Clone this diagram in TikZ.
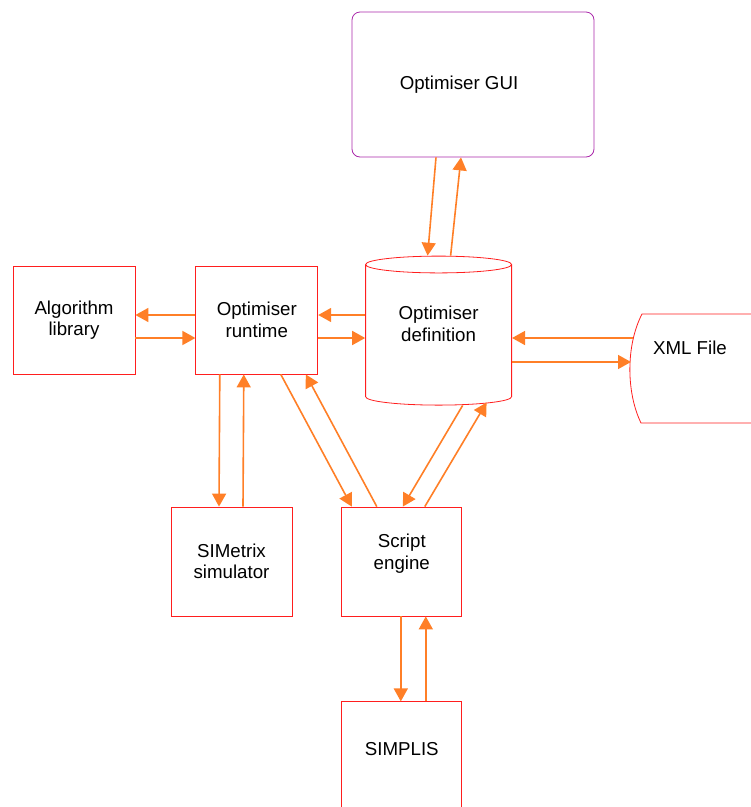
\documentclass[tikz,border=0pt]{standalone}
\usepackage{fontspec}
\setmainfont{Liberation Sans}
\usetikzlibrary{shapes.geometric,positioning,arrows.meta}
\usepackage{xcolor}
\definecolor{boxred}{RGB}{255,30,30}
\definecolor{linkorange}{RGB}{255,127,39}
\definecolor{guipurple}{RGB}{170,40,170}

\begin{document}
\begin{tikzpicture}[x=1pt,y=-1pt,%
		   block/.style={draw=boxred,line width=0.8pt,rectangle,minimum width=122pt,minimum height=108pt,align=center,inner sep=2pt},
		   store/.style={draw=boxred,line width=0.8pt,cylinder,shape border rotate=90,aspect=0.21,minimum width=146pt,minimum height=149pt,align=center,inner sep=0pt},
		   gui/.style={draw=guipurple,line width=0.8pt,rounded corners=8pt,minimum width=242pt,minimum height=145pt},
		   link/.style={-{Triangle[length=13pt,width=14pt]},line width=1.6pt,linkorange},
		   font=\fontsize{18.7}{21.5}\selectfont]
	\useasboundingbox (0,0) rectangle (751,807);

	\node[block] (lib) at (74,320) {Algorithm\\library};
	\node[block,right=60pt of lib] (rt) {Optimiser\\runtime};
	\node[store,right=47pt of rt,yshift=-15pt,label={[align=center,yshift=11pt]center:Optimiser\\definition}] (def) {\phantom{Optimiser}\\\phantom{definition}};
	\node[gui,label={[xshift=-14pt]center:Optimiser GUI}] (gui) at (473,84.5) {};
	\node[block,minimum width=121pt,minimum height=109pt] (sim) at (231.5,561.5) {SIMetrix\\simulator};
	\node[block,minimum width=120pt,minimum height=109pt,right=49pt of sim,label={[align=center,yshift=8pt]center:Script\\engine}] (script) {};
	\node[block,minimum width=120pt,below=85pt of script,label={[yshift=7pt]center:SIMPLIS}] (simplis) {};

	% file store, cut by the right edge
	\node (xml) at (690,348) {XML File};
	\draw[boxred,line width=0.8pt] (770,314) -- (642,314) .. controls (626,345) and (626,392) .. (641,423) -- (770,423);
	\coordinate (xml-in) at (631,362);
	\coordinate (xml-out) at (633,338);

	\draw[link] ([yshift=5pt]rt.west) -- ([yshift=5pt]lib.east);
	\draw[link] ([yshift=-18pt]lib.east) -- ([yshift=-18pt]rt.west);
	\draw[link] ([yshift=20pt]def.west) -- ([yshift=5pt]rt.east);
	\draw[link] ([yshift=-18pt]rt.east) -- ([yshift=-3pt]def.west);
	\draw[link] (xml-out) -- ([yshift=-3pt]def.east);
	\draw[link] ([yshift=-27pt]def.east) -- (xml-in);
	\draw[link] ([xshift=-37pt]gui.south) -- ([xshift=-11pt]def.north);
	\draw[link] ([xshift=12pt]def.north) -- ([xshift=-12pt]gui.south);
	\draw[link] ([xshift=-37pt]rt.south) -- ([xshift=-12.5pt]sim.north);
	\draw[link] ([xshift=11.5pt]sim.north) -- ([xshift=-13pt]rt.south);
	\draw[link] ([xshift=24pt]rt.south) -- ([xshift=-50pt]script.north);
	\draw[link] ([xshift=-25pt]script.north) -- ([xshift=49pt]rt.south);
	\draw[link] ([xshift=24pt]def.south) -- ([xshift=1pt]script.north);
	\draw[link] ([xshift=23pt]script.north) -- ([xshift=48pt,yshift=3pt]def.south);
	\draw[link] ([xshift=-1pt]script.south) -- ([xshift=-1pt]simplis.north);
	\draw[link] ([xshift=24pt]simplis.north) -- ([xshift=24pt]script.south);
\end{tikzpicture}
\end{document}
